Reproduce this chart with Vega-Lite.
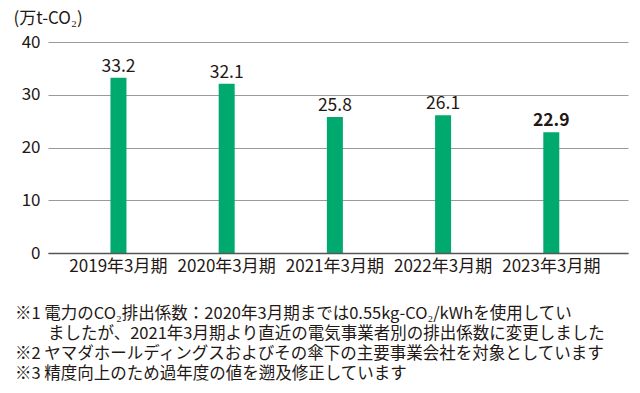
{
  "$schema": "https://vega.github.io/schema/vega-lite/v6.json",
  "autosize": {"type": "none"},
  "width": 580,
  "height": 211,
  "padding": {"left": 48, "top": 42, "right": 12, "bottom": 140},
  "background": "white",
  "config": {
    "font": "Noto Sans CJK JP",
    "view": {"stroke": null}
  },
  "title": {
    "text": [
      "※1 電力のCO₂排出係数：2020年3月期までは0.55kg-CO₂/kWhを使用してい",
      "\u200b　　ましたが、2021年3月期より直近の電気事業者別の排出係数に変更しました",
      "※2 ヤマダホールディングスおよびその傘下の主要事業会社を対象としています",
      "※3 精度向上のため過年度の値を遡及修正しています"
    ],
    "orient": "bottom",
    "anchor": "start",
    "frame": "group",
    "dx": -33,
    "offset": 32,
    "fontSize": 16.5,
    "fontWeight": "normal",
    "lineHeight": 20,
    "color": "#231815"
  },
  "data": {
    "values": [
      {"year": "2019年3月期", "value": 33.2},
      {"year": "2020年3月期", "value": 32.1},
      {"year": "2021年3月期", "value": 25.8},
      {"year": "2022年3月期", "value": 26.1},
      {"year": "2023年3月期", "value": 22.9}
    ]
  },
  "encoding": {
    "x": {
      "field": "year",
      "type": "nominal",
      "sort": null,
      "scale": {"paddingInner": 0, "paddingOuter": 0.18, "align": 0.42},
      "axis": {
        "title": null,
        "labelAngle": 0,
        "labelFontSize": 17,
        "labelColor": "#231815",
        "labelPadding": 5,
        "ticks": false,
        "domainColor": "#555555",
        "domainWidth": 1.5,
        "zindex": 1
      }
    },
    "y": {
      "field": "value",
      "type": "quantitative",
      "scale": {"domain": [0, 40]},
      "axis": {
        "values": [0, 10, 20, 30, 40],
        "title": "(万t-CO₂)",
        "titleAngle": 0,
        "titleAlign": "left",
        "titleBaseline": "middle",
        "titleX": -35,
        "titleY": -24,
        "titleFontSize": 17,
        "titleFontWeight": "normal",
        "titleColor": "#231815",
        "labelFontSize": 17,
        "labelColor": "#231815",
        "labelPadding": 8,
        "ticks": false,
        "domain": false,
        "grid": true,
        "gridColor": "#9a9a9a",
        "gridWidth": 1
      }
    }
  },
  "layer": [
    {
      "mark": {"type": "bar", "width": 16, "color": "#00aa6e"}
    },
    {
      "transform": [{"filter": "datum.year != '2023年3月期'"}],
      "mark": {"type": "text", "baseline": "bottom", "dy": -2, "fontSize": 17.5, "color": "#231815"},
      "encoding": {"text": {"field": "value", "type": "quantitative", "format": ".1f"}}
    },
    {
      "transform": [{"filter": "datum.year == '2023年3月期'"}],
      "mark": {"type": "text", "baseline": "bottom", "dy": -2, "fontSize": 17.5, "fontWeight": "bold", "color": "#231815"},
      "encoding": {"text": {"field": "value", "type": "quantitative", "format": ".1f"}}
    }
  ]
}
